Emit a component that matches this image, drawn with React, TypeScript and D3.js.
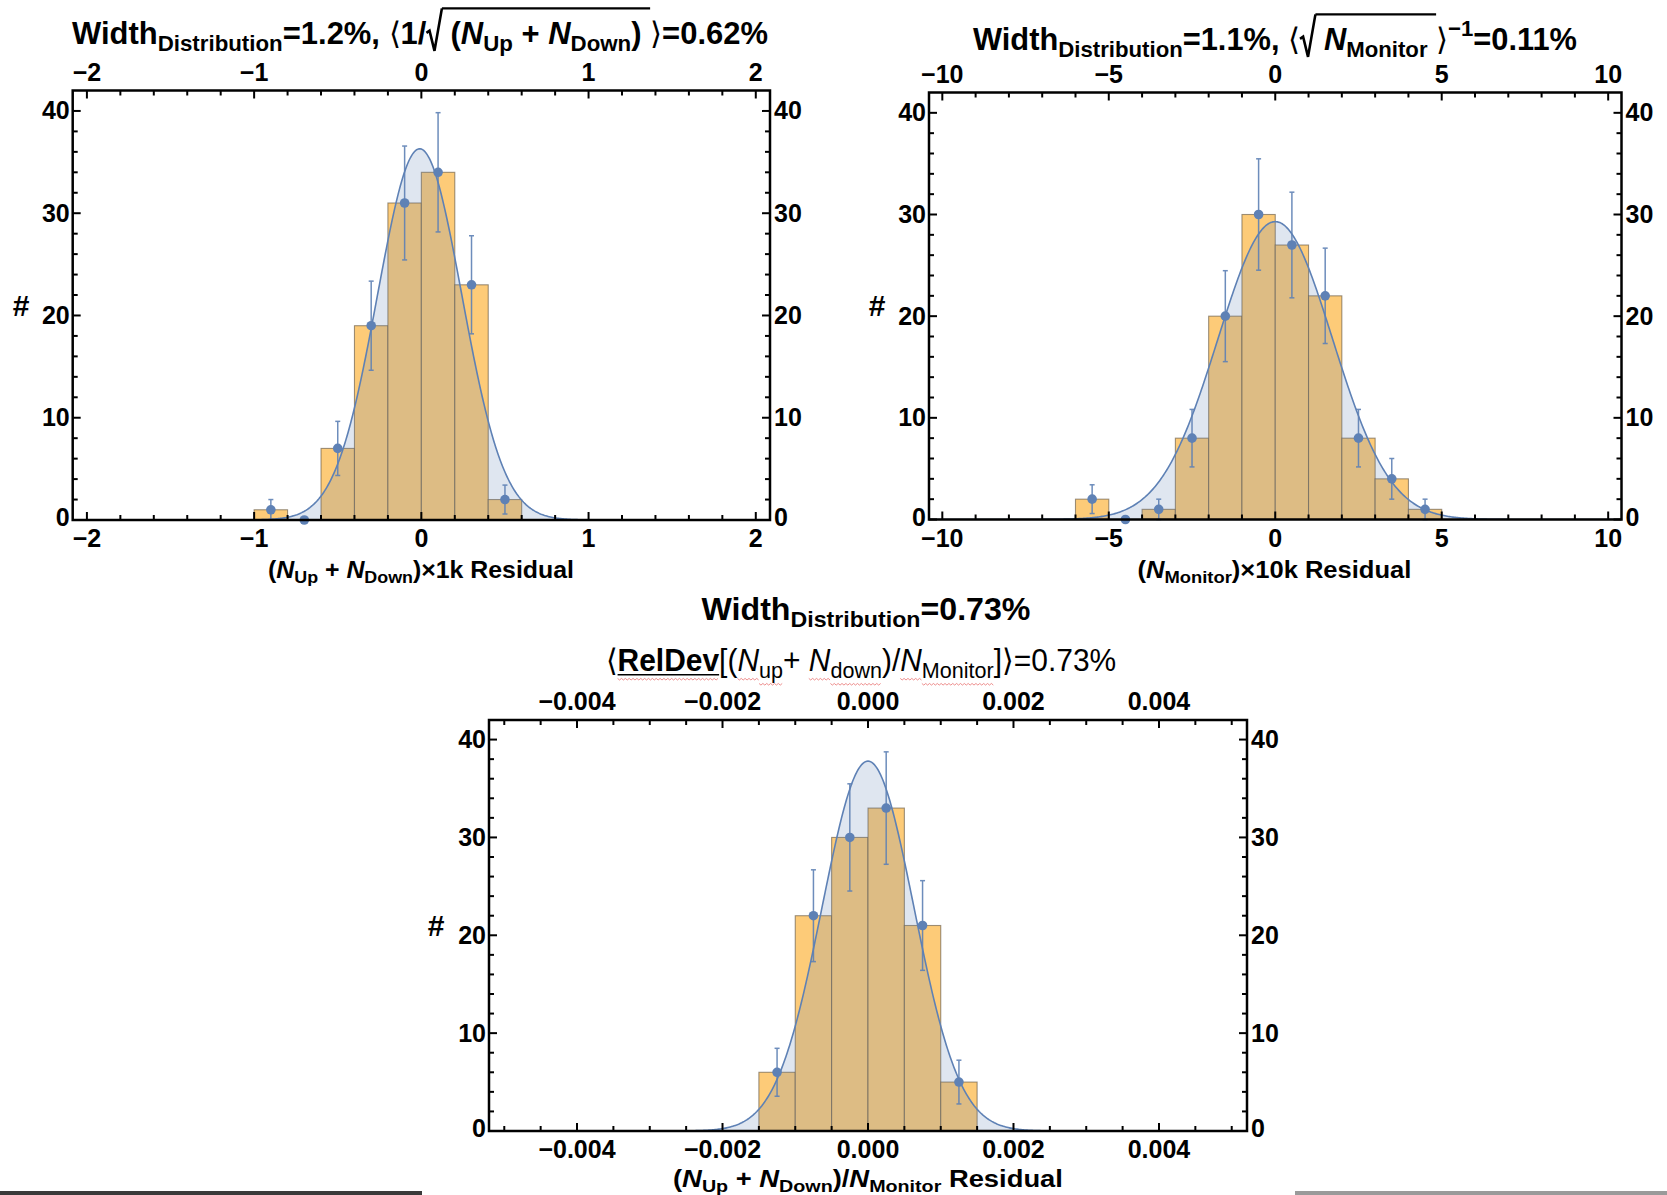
import React from 'react';
import * as d3 from 'd3';

// ---------- top-left: (N_Up + N_Down) x 1k residual ----------
const upDownEdges = [-1.0, -0.8, -0.6, -0.4, -0.2, 0.0, 0.2, 0.4, 0.6];
const upDownCounts = [1, 0, 7, 19, 31, 34, 23, 2];
const upDownFit = { mean: -0.01, sigma: 0.252, peak: 36.3 };
const upDownTicks = [-2, -1, 0, 1, 2];

// ---------- top-right: (N_Monitor) x 10k residual ----------
const monitorEdges = [-6, -5, -4, -3, -2, -1, 0, 1, 2, 3, 4, 5];
const monitorCounts = [2, 0, 1, 8, 20, 30, 27, 22, 8, 4, 1];
const monitorFit = { mean: 0, sigma: 1.72, peak: 29.3 };
const monitorTicks = [-10, -5, 0, 5, 10];

// ---------- bottom: (N_Up + N_Down)/N_Monitor residual ----------
const ratioEdges = [-0.0015, -0.001, -0.0005, 0, 0.0005, 0.001, 0.0015];
const ratioCounts = [6, 22, 30, 33, 21, 5];
const ratioFit = { mean: 0, sigma: 0.00063, peak: 37.8 };
const ratioTicks = [-0.004, -0.002, 0, 0.002, 0.004];

const countTicks = [0, 10, 20, 30, 40];

const FONT = '"Liberation Sans", Arial, Helvetica, sans-serif';
const BLUE = '#5e81b5';
const BAR = '#fdcb78';

let measureCtx: CanvasRenderingContext2D | null = null;
function textWidth(s: string, px: number, bold: boolean, italic: boolean) {
  if (!measureCtx) measureCtx = document.createElement('canvas').getContext('2d');
  measureCtx!.font = `${italic ? 'italic ' : ''}${bold ? 'bold ' : ''}${px}px ${FONT}`;
  return measureCtx!.measureText(s).width;
}

type Run =
  | { t: string; b?: boolean; i?: boolean; sub?: boolean; sup?: boolean; squiggle?: boolean; underline?: boolean }
  | { rad: 'open' | 'close' };

// Lays out a line of mixed-style text (subscripts, radicals) and stretches it to a given width.
function RichText({ runs, cx, y, size, width, bold = true }: { runs: Run[]; cx: number; y: number; size: number; width: number; bold?: boolean }) {
  let cursor = 0;
  let radStart = 0;
  const radW = size * 0.5;
  const items: React.ReactNode[] = [];
  const decos: React.ReactNode[] = [];
  runs.forEach((r, k) => {
    if ('rad' in r) {
      if (r.rad === 'open') {
        radStart = cursor;
        const s = size;
        const x = cursor;
        decos.push(
          <path key={'r' + k} d={`M${x},${-0.36 * s} L${x + 0.1 * s},${-0.43 * s} L${x + 0.26 * s},${0.22 * s} L${x + radW},${-1.15 * s}`}
            fill="none" stroke="#000" strokeWidth={2.6} strokeLinejoin="miter" />
        );
        cursor += radW;
      } else {
        decos.push(<line key={'o' + k} x1={radStart + radW} x2={cursor} y1={-1.15 * size} y2={-1.15 * size} stroke="#000" strokeWidth={2.4} />);
      }
      return;
    }
    const small = r.sub || r.sup;
    const fs = small ? size * 0.72 : size;
    const b = r.b ?? bold;
    const w = textWidth(r.t, fs, b, !!r.i);
    const dy = r.sub ? size * 0.22 : r.sup ? -size * 0.45 : 0;
    items.push(
      <text key={'t' + k} x={cursor} y={dy} fontSize={fs} fontWeight={b ? 'bold' : 'normal'} fontStyle={r.i ? 'italic' : 'normal'}
        fontFamily={FONT} xmlSpace="preserve" style={{ whiteSpace: 'pre' }} fill="#000">{r.t}</text>
    );
    if (r.underline) {
      decos.push(<line key={'u' + k} x1={cursor} x2={cursor + w} y1={dy + fs * 0.12} y2={dy + fs * 0.12} stroke="#000" strokeWidth={1.6} />);
    }
    if (r.squiggle) {
      const sy = dy + fs * 0.2 + 2;
      const pts: string[] = [];
      let up = true;
      for (let x = cursor; x <= cursor + w; x += 2) {
        pts.push(`${x},${sy + (up ? -0.8 : 0.8)}`);
        up = !up;
      }
      decos.push(<polyline key={'s' + k} points={pts.join(' ')} fill="none" stroke="#e8706f" strokeWidth={1} opacity={0.8} />);
    }
    cursor += w;
  });
  const sx = width / cursor;
  return (
    <g transform={`translate(${cx - width / 2},${y}) scale(${sx},1)`}>
      {items}
      {decos}
    </g>
  );
}

type Box = { left: number; right: number; top: number; bottom: number };
type Fit = { mean: number; sigma: number; peak: number };

function minorValues(d0: number, d1: number, step: number, majors: number[]) {
  const out: number[] = [];
  for (let k = Math.ceil(d0 / step - 1e-9); k <= Math.floor(d1 / step + 1e-9); k++) {
    const v = k * step;
    if (!majors.some((m) => Math.abs(m - v) < step * 0.01)) out.push(v);
  }
  return out;
}

function Panel({ id, box, xDomain, edges, counts, fit, ticks, minorStep, fmt }: {
  id: string; box: Box; xDomain: [number, number]; edges: number[]; counts: number[]; fit: Fit;
  ticks: number[]; minorStep: number; fmt: (v: number) => string;
}) {
  const xs = d3.scaleLinear().domain(xDomain).range([box.left, box.right]);
  const ys = d3.scaleLinear().domain([0, 42]).range([box.bottom, box.top]);
  const gauss = (x: number) => fit.peak * Math.exp(-0.5 * ((x - fit.mean) / fit.sigma) ** 2);
  const samples = d3.range(0, 601).map((k) => xDomain[0] + ((xDomain[1] - xDomain[0]) * k) / 600);
  const area = d3.area<number>().x((v) => xs(v)).y0(ys(0)).y1((v) => ys(gauss(v)));
  const line = d3.line<number>().x((v) => xs(v)).y((v) => ys(gauss(v)));
  const xMinor = minorValues(xDomain[0], xDomain[1], minorStep, ticks);
  const yMinor = minorValues(0, 41, 2, countTicks);
  const majorLen = 8;
  const minorLen = 5;
  const tickStroke = { stroke: '#000', strokeWidth: 2 };
  const labelStyle = { fontFamily: FONT, fontWeight: 'bold' as const, fontSize: 25, fill: '#000' };

  return (
    <g>
      <defs>
        <clipPath id={id}>
          <rect x={box.left} y={box.top} width={box.right - box.left} height={box.bottom - box.top} />
        </clipPath>
      </defs>
      <g clipPath={`url(#${id})`}>
        {counts.map((c, i) =>
          c > 0 ? (
            <rect key={i} x={xs(edges[i])} y={ys(c)} width={xs(edges[i + 1]) - xs(edges[i])} height={ys(0) - ys(c)}
              fill={BAR} stroke="#5c5040" strokeOpacity={0.6} strokeWidth={1.1} />
          ) : null
        )}
        <path d={area(samples) || ''} fill={BLUE} fillOpacity={0.2} />
        <path d={line(samples) || ''} fill="none" stroke={BLUE} strokeWidth={1.6} />
      </g>
      {counts.map((c, i) => {
        const cx = xs((edges[i] + edges[i + 1]) / 2);
        const e = Math.sqrt(c);
        return (
          <g key={'p' + i}>
            {c > 0 && (
              <g stroke={BLUE} strokeWidth={1.5} opacity={0.9}>
                <line x1={cx} x2={cx} y1={ys(c + e)} y2={ys(c - e)} />
                <line x1={cx - 2.5} x2={cx + 2.5} y1={ys(c + e)} y2={ys(c + e)} />
                <line x1={cx - 2.5} x2={cx + 2.5} y1={ys(c - e)} y2={ys(c - e)} />
              </g>
            )}
            <circle cx={cx} cy={ys(c)} r={4.8} fill={BLUE} />
          </g>
        );
      })}
      {/* frame and ticks */}
      <rect x={box.left} y={box.top} width={box.right - box.left} height={box.bottom - box.top} fill="none" stroke="#000" strokeWidth={2.5} />
      {ticks.map((v) => (
        <g key={'xt' + v}>
          <line x1={xs(v)} x2={xs(v)} y1={box.bottom} y2={box.bottom - majorLen} {...tickStroke} />
          <line x1={xs(v)} x2={xs(v)} y1={box.top} y2={box.top + majorLen} {...tickStroke} />
          <text x={xs(v)} y={box.bottom + 27} textAnchor="middle" {...labelStyle}>{fmt(v)}</text>
          <text x={xs(v)} y={box.top - 10} textAnchor="middle" {...labelStyle}>{fmt(v)}</text>
        </g>
      ))}
      {xMinor.map((v) => (
        <g key={'xm' + v}>
          <line x1={xs(v)} x2={xs(v)} y1={box.bottom} y2={box.bottom - minorLen} {...tickStroke} />
          <line x1={xs(v)} x2={xs(v)} y1={box.top} y2={box.top + minorLen} {...tickStroke} />
        </g>
      ))}
      {countTicks.map((v) => (
        <g key={'yt' + v}>
          <line x1={box.left} x2={box.left + majorLen} y1={ys(v)} y2={ys(v)} {...tickStroke} />
          <line x1={box.right} x2={box.right - majorLen} y1={ys(v)} y2={ys(v)} {...tickStroke} />
          <text x={box.left - 3} y={ys(v) + (v === 0 ? 6 : 8.5)} textAnchor="end" {...labelStyle}>{v}</text>
          <text x={box.right + 4} y={ys(v) + (v === 0 ? 6 : 8.5)} textAnchor="start" {...labelStyle}>{v}</text>
        </g>
      ))}
      {yMinor.map((v) => (
        <g key={'ym' + v}>
          <line x1={box.left} x2={box.left + minorLen} y1={ys(v)} y2={ys(v)} {...tickStroke} />
          <line x1={box.right} x2={box.right - minorLen} y1={ys(v)} y2={ys(v)} {...tickStroke} />
        </g>
      ))}
    </g>
  );
}

const intFmt = d3.format('');
const ratioFmt = d3.format('.3f');

export default function App() {
  const hashStyle = { fontFamily: FONT, fontWeight: 'bold' as const, fontSize: 30, fill: '#000', textAnchor: 'middle' as const };
  return (
    <svg width={1667} height={1195} viewBox="0 0 1667 1195" style={{ position: 'absolute', left: 0, top: 0, background: '#fff' }}>
      <rect x={0} y={0} width={1667} height={1195} fill="#fff" />

      <Panel id="clipA" box={{ left: 72.7, right: 770, top: 90.5, bottom: 520 }} xDomain={[-2.085, 2.085]}
        edges={upDownEdges} counts={upDownCounts} fit={upDownFit} ticks={upDownTicks} minorStep={0.2} fmt={intFmt} />
      <Panel id="clipB" box={{ left: 929, right: 1621.5, top: 92.5, bottom: 519.5 }} xDomain={[-10.4, 10.4]}
        edges={monitorEdges} counts={monitorCounts} fit={monitorFit} ticks={monitorTicks} minorStep={1} fmt={intFmt} />
      <Panel id="clipC" box={{ left: 489, right: 1247, top: 720, bottom: 1131 }} xDomain={[-0.00521, 0.00521]}
        edges={ratioEdges} counts={ratioCounts} fit={ratioFit} ticks={ratioTicks} minorStep={0.0005} fmt={ratioFmt} />

      {/* titles */}
      <RichText cx={420} y={44} size={31} width={696} runs={[
        { t: 'Width' }, { t: 'Distribution', sub: true }, { t: '=1.2%, ' }, { t: '⟨', b: false }, { t: '1/' },
        { rad: 'open' }, { t: ' (' }, { t: 'N', i: true }, { t: 'Up', sub: true }, { t: ' + ' }, { t: 'N', i: true },
        { t: 'Down', sub: true }, { t: ') ' }, { rad: 'close' }, { t: '⟩', b: false }, { t: '=0.62%' },
      ]} />
      <RichText cx={1275} y={50} size={31} width={604} runs={[
        { t: 'Width' }, { t: 'Distribution', sub: true }, { t: '=1.1%, ' }, { t: '⟨', b: false },
        { rad: 'open' }, { t: ' ' }, { t: 'N', i: true }, { t: 'Monitor', sub: true }, { t: ' ' }, { rad: 'close' },
        { t: '⟩', b: false }, { t: '−1', sup: true }, { t: '=0.11%' },
      ]} />
      <RichText cx={866} y={620} size={31} width={329} runs={[
        { t: 'Width' }, { t: 'Distribution', sub: true }, { t: '=0.73%' },
      ]} />
      <RichText cx={861} y={671} size={31} width={510} bold={false} runs={[
        { t: '⟨' }, { t: 'RelDev', b: true, underline: true, squiggle: true }, { t: '[(' },
        { t: 'N', i: true, squiggle: true }, { t: 'up', sub: true, squiggle: true }, { t: '+ ' },
        { t: 'N', i: true, squiggle: true }, { t: 'down', sub: true, squiggle: true }, { t: ')/' },
        { t: 'N', i: true, squiggle: true }, { t: 'Monitor', sub: true, squiggle: true }, { t: ']⟩=0.73%' },
      ]} />

      {/* axis titles */}
      <RichText cx={421} y={578} size={24} width={306} runs={[
        { t: '(' }, { t: 'N', i: true }, { t: 'Up', sub: true }, { t: ' + ' }, { t: 'N', i: true }, { t: 'Down', sub: true },
        { t: ')×1k Residual' },
      ]} />
      <RichText cx={1274.5} y={578} size={24} width={274} runs={[
        { t: '(' }, { t: 'N', i: true }, { t: 'Monitor', sub: true }, { t: ')×10k Residual' },
      ]} />
      <RichText cx={868} y={1187} size={24} width={390} runs={[
        { t: '(' }, { t: 'N', i: true }, { t: 'Up', sub: true }, { t: ' + ' }, { t: 'N', i: true }, { t: 'Down', sub: true },
        { t: ')/' }, { t: 'N', i: true }, { t: 'Monitor', sub: true }, { t: ' Residual' },
      ]} />
      <text x={21} y={316} {...hashStyle}>#</text>
      <text x={877} y={316} {...hashStyle}>#</text>
      <text x={436} y={936} {...hashStyle}>#</text>

      {/* page edge strips */}
      <rect x={0} y={1191} width={422} height={4} fill="#3a3a3a" />
      <rect x={1295} y={1191} width={372} height={4} fill="#9a9a9a" />
    </svg>
  );
}
